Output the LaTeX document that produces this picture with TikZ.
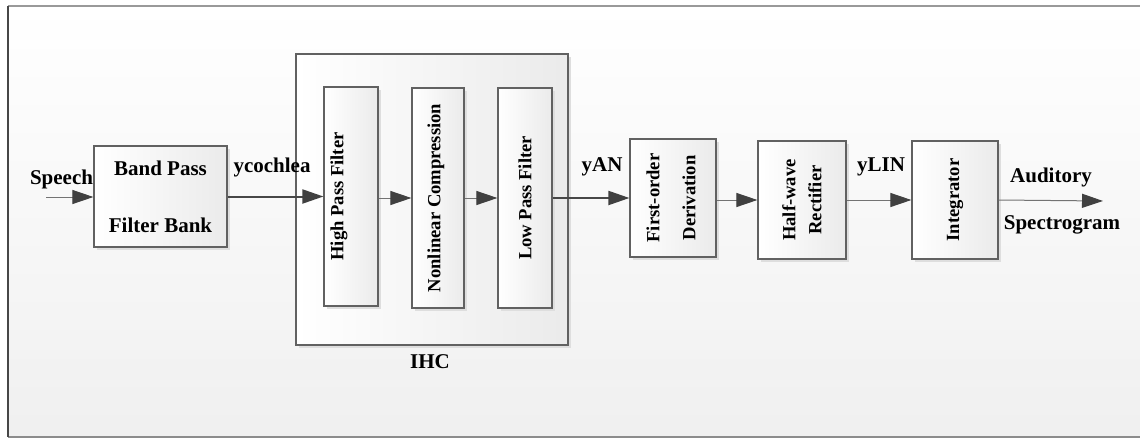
\documentclass[tikz,border=0pt]{standalone}
\usepackage{fontspec}
\setmainfont{Liberation Serif}
\usepackage{tikz}
\usetikzlibrary{arrows.meta,shadows}

\tikzset{
  blk/.style={draw=black!62, line width=0.6pt, inner sep=0pt,
    left color=white, right color=black!8,
    drop shadow={shadow xshift=1.5pt, shadow yshift=-1.5pt, fill=black!13, opacity=1}},
  hlbl/.style={font=\fontsize{10.5}{12}\selectfont\bfseries, inner sep=0pt},
  vlbl/.style={font=\fontsize{9.3}{11}\selectfont\bfseries, rotate=90, align=center, inner sep=0pt},
  flow/.style={draw=black!55, line width=0.5pt, -{Triangle[length=10.5pt,width=7pt,color=black!75]}},
  bigflow/.style={draw=black!72, line width=1pt, -{Triangle[length=10.5pt,width=7pt,color=black!75]}}
}

\begin{document}
\begin{tikzpicture}[x=0.5pt,y=-0.5pt]
  \useasboundingbox (0,0) rectangle (1140,439);
  % background frame
  \fill[top color=white, bottom color=black!6] (8,6) rectangle (1146,437);
  \draw[black!40, line width=1pt] (8,6) -- (1146,6);
  \draw[black!45, line width=1pt] (8,437) -- (1146,437);
  \draw[black!72, line width=1pt] (8,6) -- (8,437);

  % blocks
  \node[blk, minimum width=66.5pt, minimum height=50.5pt] (band) at (160.5,196.5) {};
  \node[hlbl] (band-a) at (160.5,168) {Band Pass};
  \node[hlbl] (band-b) at (160.5,225) {Filter Bank};

  \node[blk, minimum width=136pt, minimum height=145.5pt] (ihc) at (432,199.5) {};
  \node[hlbl] (ihc-t) at (430,362) {IHC};

  \node[blk, minimum width=27pt, minimum height=109.5pt] (hpf) at (351,196.5) {};
  \node[blk, minimum width=26pt, minimum height=110pt] (nlc) at (438,198) {};
  \node[blk, minimum width=27pt, minimum height=110pt] (lpf) at (525,198) {};
  \node[vlbl] (hpf-t) at ([xshift=-6pt]hpf.center) {High Pass Filter};
  \node[vlbl] (nlc-t) at ([xshift=-1pt]nlc.center) {Nonlinear Compression};
  \node[vlbl] (lpf-t) at (lpf.center) {Low Pass Filter};

  \node[blk, minimum width=43pt, minimum height=59pt] (der) at (673,198) {};
  \node[vlbl] (der-t) at ([xshift=-1pt]der.center) {First-order\\[7pt]Derivation};
  \node[blk, minimum width=44pt, minimum height=59pt] (rect) at (802,200) {};
  \node[vlbl] (rect-t) at (rect.center) {Half-wave\\[2pt]Rectifier};
  \node[blk, minimum width=43pt, minimum height=59pt] (integ) at (955,200) {};
  \node[vlbl] (integ-t) at (integ.center) {Integrator};

  % signal labels
  \coordinate (in) at (46,197);
  \coordinate (out) at (1103,201);
  \node[hlbl] (speech) at (61.5,179) {Speech};
  \node[hlbl] (ycoch) at (272,167) {ycochlea};
  \node[hlbl] (yan) at (602,167) {yAN};
  \node[hlbl] (ylin) at (881,167) {yLIN};
  \node[hlbl] (aud) at (1051,177) {Auditory};
  \node[hlbl] (spec) at (1062,225) {Spectrogram};

  % connections
  \draw[flow] (in) -- (in -| band.west);
  \draw[bigflow] (band.east) -- (band.east -| hpf.west);
  \draw[flow] (hpf.east |- nlc.center) -- (nlc.west);
  \draw[flow] (nlc.east) -- (lpf.west);
  \draw[bigflow] (lpf.east |- der.center) -- (der.west);
  \draw[flow] (der.east |- rect.center) -- (rect.west);
  \draw[flow] (rect.east) -- (integ.west);
  \draw[flow] (integ.east) -- (out);
\end{tikzpicture}
\end{document}
